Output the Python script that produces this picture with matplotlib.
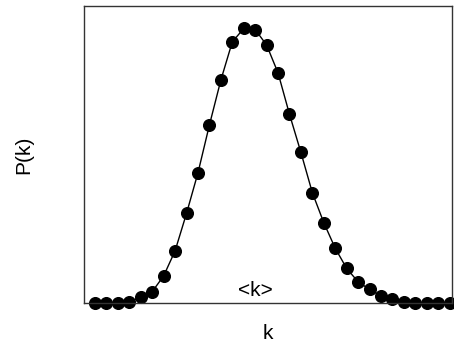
import matplotlib
matplotlib.use('Agg')
import matplotlib.pyplot as plt
import numpy as np

plt.rcParams['font.family'] = ['Liberation Sans', 'DejaVu Sans']

# degree k and probability P(k)
k = np.arange(32)
pk = [0.0, 0.0, 0.0001, 0.0004, 0.0022, 0.0044, 0.0105, 0.0202,
      0.0347, 0.0504, 0.0689, 0.0863, 0.1011, 0.1063, 0.1059, 0.0999,
      0.0891, 0.0731, 0.0583, 0.0427, 0.0311, 0.0212, 0.0134, 0.0082,
      0.0053, 0.0028, 0.0015, 0.0005, 0.0001, 0.0, 0.0, 0.0]
k_mean = 14

fig = plt.figure(figsize=(4.54, 3.44), dpi=100)
ax = fig.add_axes([0.184, 0.119, 0.8115, 0.8635])
ax.plot(k, pk, color='black', lw=1, marker='o', markersize=8.4,
        clip_on=False)
ax.set_xlim(-1, 31.2)
ax.set_ylim(0, 0.115)
ax.set_xticks([])
ax.set_yticks([])
for s in ax.spines.values():
    s.set_linewidth(1)
    s.set_color('#333333')
ax.text(k_mean, 0.0048, '<k>', ha='center', va='center', fontsize=15)
ax.set_xlabel('k', fontsize=15, va='center')
ax.xaxis.set_label_coords(0.5, -0.102)
ax.set_ylabel('P(k)', fontsize=15, va='center')
ax.yaxis.set_label_coords(-0.162, 0.5)
fig.savefig('out.png', dpi=100)
